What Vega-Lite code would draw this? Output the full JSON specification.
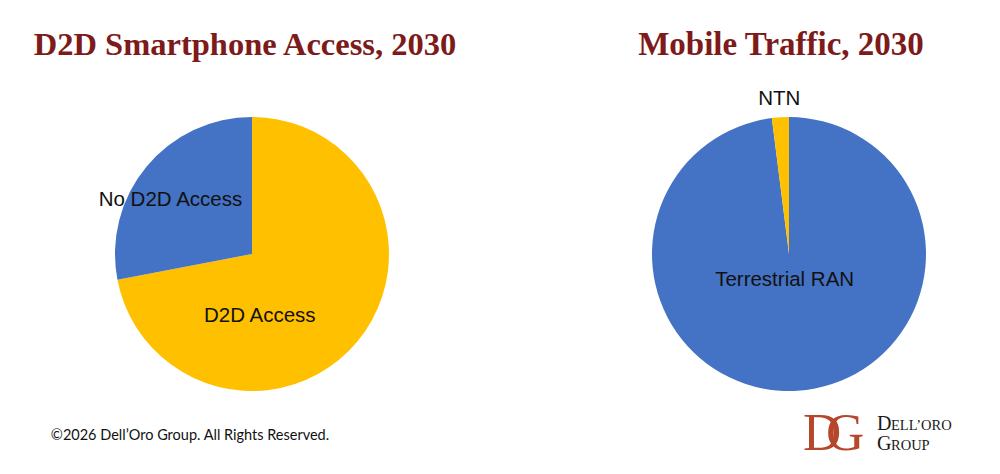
{
  "$schema": "https://vega.github.io/schema/vega-lite/v6.json",
  "background": "white",
  "padding": {"left": 32, "right": 1, "top": 0, "bottom": 23},
  "config": {
    "view": {"stroke": null},
    "text": {"font": "Liberation Sans", "fontSize": 20.5, "color": "#111111", "baseline": "middle"}
  },
  "datasets": {
    "smartphones": [
      {"slice": "D2D Access", "share": 72, "rank": 1},
      {"slice": "No D2D Access", "share": 28, "rank": 2}
    ],
    "traffic": [
      {"slice": "Terrestrial RAN", "share": 98, "rank": 1},
      {"slice": "NTN", "share": 2, "rank": 2}
    ],
    "headings": [
      {"panel": "left", "heading": "D2D Smartphone Access, 2030"},
      {"panel": "right", "heading": "Mobile Traffic, 2030"}
    ],
    "footer": [
      {"note": "©2026 Dell’Oro Group. All Rights Reserved."}
    ],
    "logo": [
      {"mark1": "D", "mark2": "G", "line1a": "D", "line1b": "ELL’ORO", "line2a": "G", "line2b": "ROUP"}
    ]
  },
  "columns": 2,
  "spacing": {"row": 30, "column": 117},
  "bounds": "flush",
  "resolve": {"scale": {"color": "independent", "theta": "independent"}},
  "concat": [
    {
      "width": 420,
      "height": 87,
      "data": {"name": "headings"},
      "transform": [{"filter": "datum.panel === 'left'"}],
      "mark": {"type": "text", "font": "Liberation Serif", "fontSize": 32.5, "fontWeight": "bold", "color": "#7D1A1A", "baseline": "alphabetic", "dx": -7, "dy": 11},
      "encoding": {"text": {"field": "heading"}}
    },
    {
      "width": 420,
      "height": 87,
      "data": {"name": "headings"},
      "transform": [{"filter": "datum.panel === 'right'"}],
      "mark": {"type": "text", "font": "Liberation Serif", "fontSize": 33, "fontWeight": "bold", "color": "#7D1A1A", "baseline": "alphabetic", "dx": -8, "dy": 11},
      "encoding": {"text": {"field": "heading"}}
    },
    {
      "width": 420,
      "height": 274,
      "data": {"name": "smartphones"},
      "encoding": {
        "theta": {"field": "share", "type": "quantitative", "stack": true},
        "order": {"field": "rank", "type": "ordinal"}
      },
      "layer": [
        {
          "mark": {"type": "arc"},
          "encoding": {
            "color": {
              "field": "slice",
              "type": "nominal",
              "scale": {"domain": ["D2D Access", "No D2D Access"], "range": ["#FFC000", "#4472C4"]},
              "legend": null
            }
          }
        },
        {
          "mark": {"type": "text", "dx": -40, "dy": 22},
          "encoding": {
            "radius": {"value": 62},
            "text": {"condition": {"test": "datum.slice === 'D2D Access'", "field": "slice"}, "value": ""}
          }
        },
        {
          "mark": {"type": "text", "dx": -6, "dy": 8},
          "encoding": {
            "radius": {"value": 98},
            "text": {"condition": {"test": "datum.slice === 'No D2D Access'", "field": "slice"}, "value": ""}
          }
        }
      ]
    },
    {
      "width": 420,
      "height": 274,
      "data": {"name": "traffic"},
      "encoding": {
        "theta": {"field": "share", "type": "quantitative", "stack": true},
        "order": {"field": "rank", "type": "ordinal"}
      },
      "layer": [
        {
          "mark": {"type": "arc"},
          "encoding": {
            "color": {
              "field": "slice",
              "type": "nominal",
              "scale": {"domain": ["Terrestrial RAN", "NTN"], "range": ["#4472C4", "#FFC000"]},
              "legend": null
            }
          }
        },
        {
          "mark": {"type": "text", "dx": -6, "dy": 0},
          "encoding": {
            "radius": {"value": 26},
            "text": {"condition": {"test": "datum.slice === 'Terrestrial RAN'", "field": "slice"}, "value": ""}
          }
        },
        {
          "mark": {"type": "text", "dx": 0, "dy": 0},
          "encoding": {
            "radius": {"value": 155},
            "text": {"condition": {"test": "datum.slice === 'NTN'", "field": "slice"}, "value": ""}
          }
        }
      ]
    },
    {
      "width": 420,
      "height": 30,
      "data": {"name": "footer"},
      "mark": {"type": "text", "font": "Lato", "fontSize": 14.5, "color": "#111111", "dx": -62},
      "encoding": {"text": {"field": "note"}}
    },
    {
      "width": 420,
      "height": 30,
      "data": {"name": "logo"},
      "layer": [
        {
          "mark": {"type": "text", "font": "Liberation Serif", "fontSize": 53, "color": "#B5472A", "align": "left", "baseline": "alphabetic", "dx": 14, "dy": 14},
          "encoding": {"text": {"field": "mark1"}}
        },
        {
          "mark": {"type": "text", "font": "Liberation Serif", "fontSize": 53, "color": "#B5472A", "align": "left", "baseline": "alphabetic", "dx": 37, "dy": 14},
          "encoding": {"text": {"field": "mark2"}}
        },
        {
          "mark": {"type": "text", "font": "Liberation Serif", "fontSize": 20, "color": "#1A1A1A", "align": "left", "baseline": "alphabetic", "dx": 88, "dy": -6},
          "encoding": {"text": {"field": "line1a"}}
        },
        {
          "mark": {"type": "text", "font": "Liberation Serif", "fontSize": 14.5, "color": "#1A1A1A", "align": "left", "baseline": "alphabetic", "dx": 102, "dy": -6},
          "encoding": {"text": {"field": "line1b"}}
        },
        {
          "mark": {"type": "text", "font": "Liberation Serif", "fontSize": 20, "color": "#1A1A1A", "align": "left", "baseline": "alphabetic", "dx": 88, "dy": 14},
          "encoding": {"text": {"field": "line2a"}}
        },
        {
          "mark": {"type": "text", "font": "Liberation Serif", "fontSize": 14.5, "color": "#1A1A1A", "align": "left", "baseline": "alphabetic", "dx": 102, "dy": 14},
          "encoding": {"text": {"field": "line2b"}}
        }
      ]
    }
  ]
}
